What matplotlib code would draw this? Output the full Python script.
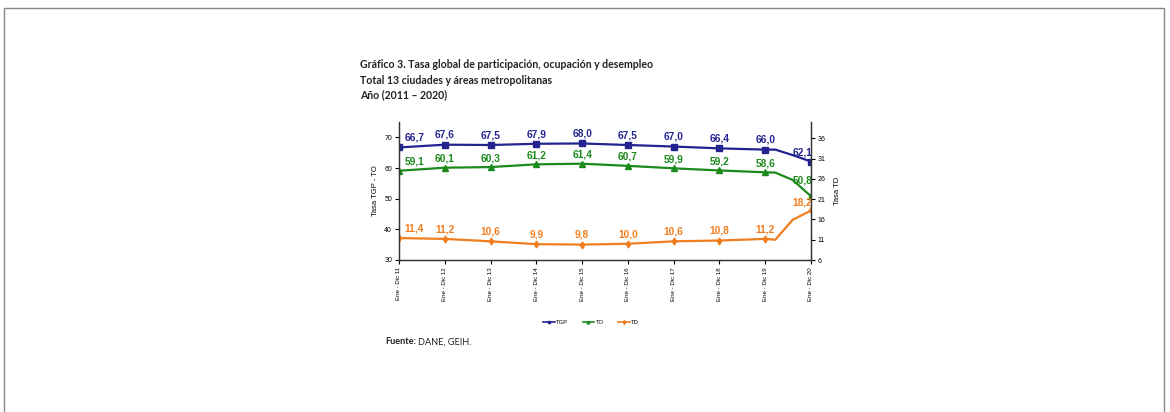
import matplotlib
matplotlib.use("Agg")
import matplotlib.pyplot as plt
from matplotlib.patches import Rectangle
from matplotlib.lines import Line2D

categories = ["Ene - Dic 11", "Ene - Dic 12", "Ene - Dic 13", "Ene - Dic 14", "Ene - Dic 15",
              "Ene - Dic 16", "Ene - Dic 17", "Ene - Dic 18", "Ene - Dic 19", "Ene - Dic 20"]
tgp = [66.7, 67.6, 67.5, 67.9, 68.0, 67.5, 67.0, 66.4, 66.0, 62.1]
to = [59.1, 60.1, 60.3, 61.2, 61.4, 60.7, 59.9, 59.2, 58.6, 50.8]
td = [11.4, 11.2, 10.6, 9.9, 9.8, 10.0, 10.6, 10.8, 11.2, 18.2]
extra_pos = [8.22, 8.6]
tgp_extra = [66.0, 64.2]
to_extra = [58.5, 56.1]
td_extra = [11.0, 15.9]

C_TGP = "#23238f"
C_TO = "#1b8a1b"
C_TD = "#f07d1e"

fig = plt.figure(figsize=(11.7, 4.12), dpi=100)
fig.patches.append(Rectangle((4/1170, -0.05), 1160/1170, 1.05 - 8/412, transform=fig.transFigure,
                             fill=False, edgecolor="#888888", linewidth=1.0))

fs = ["Lato", "DejaVu Sans"]
fig.text(360/1170, 1 - 65/412, "Gráfico 3. Tasa global de participación, ocupación y desempleo",
         fontsize=7.6, fontweight="bold", family=fs, va="center", ha="left", color="#222222")
fig.text(360/1170, 1 - 80/412, "Total 13 ciudades y áreas metropolitanas",
         fontsize=7.6, fontweight="bold", family=fs, va="center", ha="left", color="#222222")
fig.text(360/1170, 1 - 95/412, "Año (2011 – 2020)",
         fontsize=7.6, fontweight="bold", family=fs, va="center", ha="left", color="#222222")
fig.text(385/1170, 1 - 342/412, "Fuente:", fontsize=6.6, fontweight="bold", family=fs,
         va="center", ha="left", color="#222222")
fig.text(418/1170, 1 - 342/412, "DANE, GEIH.", fontsize=6.6, family=fs,
         va="center", ha="left", color="#222222")

ax = fig.add_axes([399/1170, 1 - 260/412, 412/1170, 138/412])
ax2 = ax.twinx()

x = list(range(len(categories)))

def with_extra(vals, ev):
    xs = x[:9] + extra_pos + x[9:]
    ys = vals[:9] + ev + vals[9:]
    return xs, ys

xs, ys = with_extra(tgp, tgp_extra)
ax.plot(xs, ys, color=C_TGP, lw=1.6)
ax.plot(x, tgp, ls="none", marker="s", ms=4, color=C_TGP)
xs, ys = with_extra(to, to_extra)
ax.plot(xs, ys, color=C_TO, lw=1.6)
ax.plot(x, to, ls="none", marker="^", ms=4, color=C_TO)
xs, ys = with_extra(td, td_extra)
ax2.plot(xs, ys, color=C_TD, lw=1.6)
ax2.plot(x, td, ls="none", marker="d", ms=3.5, color=C_TD)

def lab(a, vals, color, dy, last_dy):
    for i, v in enumerate(vals):
        dx = 0
        ddy = dy
        if i == 0:
            dx = 11
        if i == len(vals) - 1:
            dx = -6
            ddy = last_dy
        a.annotate(f"{v:.1f}".replace(".", ","), (i, v), xytext=(dx, ddy), textcoords="offset points",
                   ha="center", va="center", fontsize=7.3, fontweight="bold", color=color,
                   family=["Liberation Sans", "DejaVu Sans"])

lab(ax, tgp, C_TGP, 7, 6.5)
lab(ax, to, C_TO, 6.5, 11)
lab(ax2, td, C_TD, 7, 6)

ax.set_xlim(0, 9)
ax.set_ylim(30, 75)
ax.set_yticks([30, 40, 50, 60, 70])
ax2.set_ylim(6, 40)
ax2.set_yticks([6, 11, 16, 21, 26, 31, 36])
ax.set_xticks(x)
ax.set_xticklabels(categories, rotation=90, fontsize=4.4, family=["Liberation Sans"])
for a in (ax, ax2):
    a.tick_params(axis="y", labelsize=5, length=3, width=0.8, pad=2)
    for lbl in a.get_yticklabels():
        lbl.set_family("Liberation Sans")
    for s in a.spines.values():
        s.set_linewidth(0.9)
        s.set_color("#333333")
ax.tick_params(axis="x", length=3, width=0.8, pad=2)
ax.spines["top"].set_visible(False)
ax2.spines["top"].set_visible(False)

ax.set_ylabel("Tasa TGP - TO", fontsize=5.5, family=["Liberation Sans"], labelpad=4)
ax2.set_ylabel("Tasa TD", fontsize=5.5, family=["Liberation Sans"], rotation=90, labelpad=6)

handles = [Line2D([], [], color=C_TGP, marker="s", ms=2, lw=1.2),
           Line2D([], [], color=C_TO, marker="^", ms=2, lw=1.2),
           Line2D([], [], color=C_TD, marker="d", ms=2, lw=1.2)]
fig.legend(handles, ["TGP", "TO", "TD"], loc="center", bbox_to_anchor=(591/1170, 1 - 322/412),
           ncol=3, frameon=False, handlelength=2.0, columnspacing=2.5,
           handletextpad=0.2, prop={"family": "Liberation Sans", "size": 4.2})

fig.savefig("out.png", dpi=100)
